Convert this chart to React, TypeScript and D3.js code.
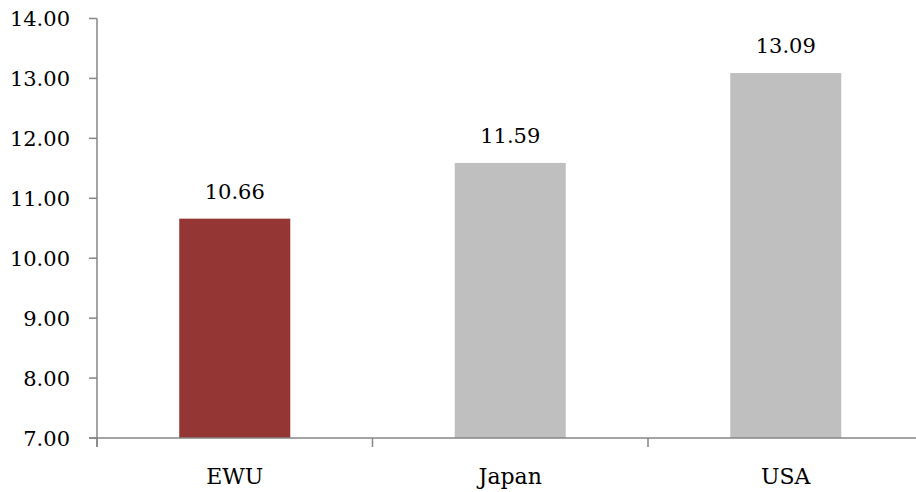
import React from "react";
import * as d3 from "d3";

const categories = ["EWU", "Japan", "USA"];
const values = [10.66, 11.59, 13.09];
const barColors = ["#943634", "#BFBFBF", "#BFBFBF"];
const yTicks = [7, 8, 9, 10, 11, 12, 13, 14];

const W = 916;
const H = 492;
const FONT = "'DejaVu Serif', serif";

export default function App() {
  const axisX = 97;
  const y = d3.scaleLinear().domain([7, 14]).range([438, 18.5]);
  const x = d3.scaleBand<string>().domain(categories).range([axisX, axisX + 3 * 275.5]).padding(0);
  const barW = x.bandwidth() * 0.403;
  const axisColor = "#868686";
  const bounds = [0, 1, 2].map((i) => axisX + i * x.step());
  const textStyle = { fontFamily: FONT, fontSize: "21px" };

  return (
    <div style={{ position: "absolute", left: 0, top: 0 }}>
      <svg width={W} height={H} style={{ display: "block", background: "#fff" }}>
        {categories.map((c, i) => {
          const cx = (x(c) as number) + x.bandwidth() / 2;
          return (
            <g key={c}>
              <rect
                x={cx - barW / 2}
                y={y(values[i])}
                width={barW}
                height={y(7) - y(values[i])}
                fill={barColors[i]}
              />
              <text x={cx} y={y(values[i]) - 20} textAnchor="middle" style={textStyle} fill="#000">
                {values[i].toFixed(2)}
              </text>
              <text x={cx} y={484} textAnchor="middle" style={{ ...textStyle, fontSize: "22px" }} fill="#000">
                {c}
              </text>
            </g>
          );
        })}
        {/* y axis */}
        <line x1={axisX} x2={axisX} y1={y(14)} y2={447} stroke={axisColor} strokeWidth={1.5} />
        {yTicks.map((t) => (
          <g key={t}>
            <line x1={89} x2={axisX} y1={y(t)} y2={y(t)} stroke={axisColor} strokeWidth={1.5} />
            <text x={70} y={y(t)} dy="0.36em" textAnchor="end" style={textStyle} fill="#000">
              {t.toFixed(2)}
            </text>
          </g>
        ))}
        {/* x axis */}
        <line x1={89} x2={W} y1={y(7)} y2={y(7)} stroke={axisColor} strokeWidth={1.5} />
        {bounds.map((b) => (
          <line key={b} x1={b} x2={b} y1={y(7)} y2={447} stroke={axisColor} strokeWidth={1.5} />
        ))}
      </svg>
    </div>
  );
}
